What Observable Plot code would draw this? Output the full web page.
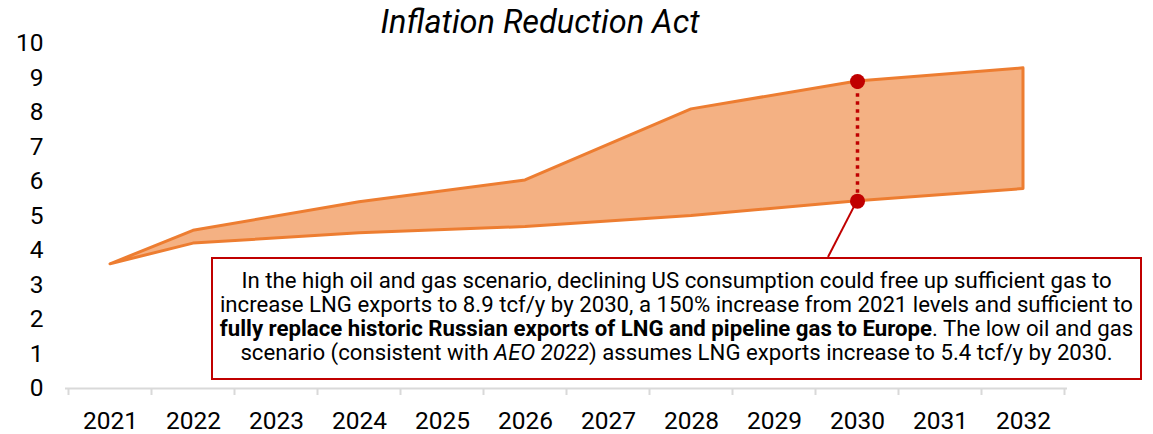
<!DOCTYPE html>
<html>
<head>
<meta charset="utf-8">
<script src="https://cdn.jsdelivr.net/npm/d3@7"></script>
<script src="https://cdn.jsdelivr.net/npm/@observablehq/plot@0.6"></script>
<style>
  html, body { margin: 0; padding: 0; background: #fff; }
  #wrap { position: relative; width: 1153px; height: 434px; font-family: Roboto, sans-serif; overflow: hidden; }
  #title { position: absolute; left: 540px; top: 4px; transform: translateX(-50%); font-size: 32.5px; font-style: italic; line-height: 36px; white-space: nowrap; color: #000; }
  #note { position: absolute; left: 211px; top: 257px; width: 931px; height: 123px; box-sizing: border-box; border: 2px solid #c00000; background: #fff;
          text-align: center; font-size: 22.2px; line-height: 24px; padding-top: 9px; white-space: nowrap; color: #000; }
  #note b { font-weight: 700; }
</style>
</head>
<body>
<div id="wrap">
  <div id="chart"></div>
  <div id="title">Inflation Reduction Act</div>
  <div id="note">In the high oil and gas scenario, declining US consumption could free up sufficient gas to<br>increase LNG exports to 8.9 tcf/y by 2030, a 150% increase from 2021 levels and sufficient to<br><b>fully replace historic Russian exports of LNG and pipeline gas to Europe</b>. The low oil and gas<br>scenario (consistent with <i>AEO 2022</i>) assumes LNG exports increase to 5.4 tcf/y by 2030.</div>
</div>
<script>
const years = ["2021","2022","2023","2024","2025","2026","2027","2028","2029","2030","2031","2032"];
const pointYears = ["2021","2022","2024","2026","2028","2030","2032"];
const lowScenario = [3.6, 4.2, 4.5, 4.68, 5.0, 5.43, 5.78];
const highScenario = [3.6, 4.57, 5.4, 6.03, 8.09, 8.9, 9.28];
const yTicks = [0,1,2,3,4,5,6,7,8,9,10];
const highlightYear = "2030";

const rows = pointYears.map((yr, i) => ({year: yr, low: lowScenario[i], high: highScenario[i]}));
const highlight = rows.filter(d => d.year === highlightYear);

const orangeFill = "#f4b183", orangeStroke = "#ed7d31", red = "#c00000", grey = "#d9d9d9";

const plot = Plot.plot({
  width: 1153,
  height: 434,
  marginLeft: 65,
  marginRight: 86,
  marginTop: 43,
  marginBottom: 46,
  style: {fontFamily: "Roboto, sans-serif", fontSize: "24.5px", color: "#000", background: "transparent"},
  x: {type: "point", domain: years, padding: 0.5, label: null},
  y: {domain: [0, 10], label: null},
  marks: [
    Plot.axisY({ticks: yTicks, tickSize: 0, tickPadding: 22, fontSize: 24.5, label: null}),
    Plot.axisX({tickSize: 0, tickPadding: 23.3, fontSize: 24.5, label: null}),
    Plot.ruleY([0], {stroke: grey, strokeWidth: 2}),
    Plot.areaY(rows, {x: "year", y1: "low", y2: "high", fill: orangeFill, stroke: orangeStroke, strokeWidth: 3, strokeLinejoin: "round"}),
    Plot.ruleX(highlight, {x: "year", y1: "low", y2: "high", stroke: red, strokeWidth: 3.5, strokeDasharray: "3.5,4.5"}),
    Plot.dot(highlight, {x: "year", y: "high", r: 7.5, fill: red}),
    Plot.dot(highlight, {x: "year", y: "low", r: 7.5, fill: red})
  ]
});
document.getElementById("chart").appendChild(plot);

// band separators on the x axis and the callout pointer, positioned from the scales
const xs = plot.scale("x"), ys = plot.scale("y");
const step = xs.apply(years[1]) - xs.apply(years[0]);
const y0 = ys.apply(0);
const svg = d3.select(plot);
const bounds = years.map(y => xs.apply(y) - step / 2).concat([xs.apply(years[years.length - 1]) + step / 2]);
svg.append("g").selectAll("line").data(bounds).join("line")
  .attr("x1", d => d).attr("x2", d => d)
  .attr("y1", y0).attr("y2", y0 + 7)
  .attr("stroke", grey).attr("stroke-width", 2);
const h = highlight[0];
const px = xs.apply(h.year), py = ys.apply(h.low);
svg.append("line")
  .attr("x1", px).attr("y1", py)
  .attr("x2", px - 29).attr("y2", 257)
  .attr("stroke", red).attr("stroke-width", 2);
svg.selectAll("circle").raise();
</script>
</body>
</html>
